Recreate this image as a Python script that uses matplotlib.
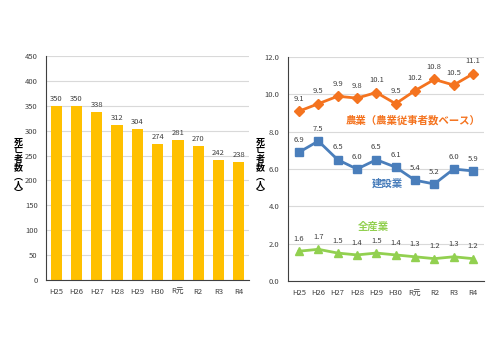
import numpy as np
import matplotlib
matplotlib.use('Agg')
import matplotlib.pyplot as plt

plt.rcParams['font.family'] = ['Noto Sans CJK JP', 'DejaVu Sans']

years = ['H25', 'H26', 'H27', 'H28', 'H29', 'H30', 'R元', 'R2', 'R3', 'R4']
deaths = [350, 350, 338, 312, 304, 274, 281, 270, 242, 238]
agri = [9.1, 9.5, 9.9, 9.8, 10.1, 9.5, 10.2, 10.8, 10.5, 11.1]
constr = [6.9, 7.5, 6.5, 6.0, 6.5, 6.1, 5.4, 5.2, 6.0, 5.9]
allind = [1.6, 1.7, 1.5, 1.4, 1.5, 1.4, 1.3, 1.2, 1.3, 1.2]

bar_c = '#FFC000'
agri_c = '#F4731F'
con_c = '#4A7EBB'
all_c = '#92D050'
txt_c = '#404040'

ylab = '\n'.join(['死', '亡', '者', '数', '︵', '人', '︶'])

fig = plt.figure(figsize=(5, 3.5), dpi=100)
x = np.arange(len(years))

# 左: 死亡者数
ax1 = fig.add_axes([0.092, 0.2, 0.406, 0.64])
ax1.bar(x, deaths, width=0.55, color=bar_c, zorder=2)
for i, v in enumerate(deaths):
    ax1.text(i, v + 6, str(v), ha='center', va='bottom', fontsize=5.5, color=txt_c)
ax1.set_xlim(-0.5, 9.5)
ax1.set_ylim(0, 450)
ax1.set_yticks(range(0, 451, 50))
ax1.set_xticks(x)
ax1.set_xticklabels(years)
fig.text(0.036, 0.52, ylab, ha='center', va='center', fontsize=6.5,
         linespacing=0.95, fontweight='bold')

# 右: 死亡率
ax2 = fig.add_axes([0.576, 0.197, 0.392, 0.64])
ax2.plot(x, agri, color=agri_c, lw=2, marker='D', ms=5.5, zorder=3)
ax2.plot(x, constr, color=con_c, lw=2, marker='s', ms=5.5, zorder=3)
ax2.plot(x, allind, color=all_c, lw=2, marker='^', ms=5.5, zorder=3)
for i in range(len(years)):
    ax2.text(i, agri[i] + 0.45, f'{agri[i]:.1f}', ha='center', va='bottom', fontsize=5.5, color=txt_c)
    ax2.text(i, constr[i] + 0.45, f'{constr[i]:.1f}', ha='center', va='bottom', fontsize=5.5, color=txt_c)
    ax2.text(i, allind[i] + 0.45, f'{allind[i]:.1f}', ha='center', va='bottom', fontsize=5.5, color=txt_c)
ax2.text(5.9, 8.6, '農業（農業従事者数ベース）', ha='center', va='center', fontsize=7.5,
         color=agri_c, fontweight='bold')
ax2.text(4.55, 5.2, '建設業', ha='center', va='center', fontsize=7.5, color=con_c, fontweight='bold')
ax2.text(3.87, 2.9, '全産業', ha='center', va='center', fontsize=7.5, color=all_c, fontweight='bold')
ax2.set_xlim(-0.57, 9.57)
ax2.set_ylim(0, 12)
ax2.set_yticks(np.arange(0, 12.1, 2))
ax2.set_yticklabels([f'{v:.1f}' for v in np.arange(0, 12.1, 2)])
ax2.set_xticks(x)
ax2.set_xticklabels(years)
fig.text(0.52, 0.52, ylab, ha='center', va='center', fontsize=6.5,
         linespacing=0.95, fontweight='bold')

for ax in (ax1, ax2):
    ax.grid(axis='y', color='#D9D9D9', lw=0.8, zorder=0)
    ax.set_axisbelow(True)
    for s in ('top', 'right'):
        ax.spines[s].set_visible(False)
    ax.spines['left'].set_color('#404040')
    ax.spines['bottom'].set_color('#404040')
    ax.tick_params(length=0, labelsize=5.5, colors=txt_c, pad=6)

fig.savefig('out.png', dpi=100)
